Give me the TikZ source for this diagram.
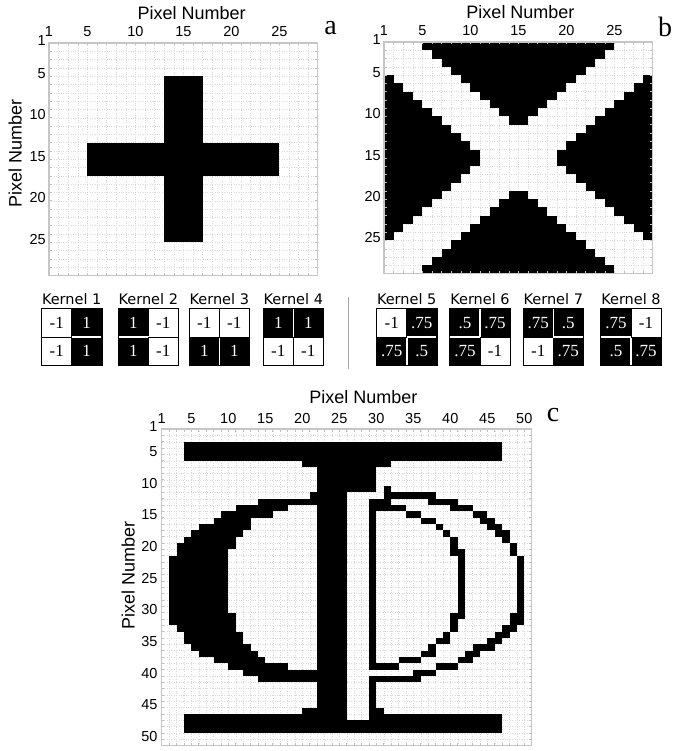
\documentclass[tikz,border=0pt]{standalone}
\usepackage{fontspec}
\setmainfont{Liberation Serif}
\setsansfont{Liberation Sans}
\newfontfamily\kfont{DejaVu Sans}
\def\kneg{-1}
\tikzset{
  griddot/.style={gray!30, line width=0.25pt, dash pattern=on 0.6pt off 1.8pt},
  gtick/.style={gray!50, line width=0.45pt},
  gframe/.style={gray!45, line width=1.1pt},
  ticklab/.style={font=\sffamily\fontsize{14.5}{16}\selectfont, inner sep=0pt},
  axtitle/.style={font=\sffamily\fontsize{18}{20}\selectfont, inner sep=0pt},
  panlab/.style={font=\rmfamily\fontsize{28}{30}\selectfont, inner sep=0pt},
  klab/.style={font=\kfont\fontsize{14.5}{16}\selectfont, inner sep=0pt},
  kcell/.style={minimum width=30pt, minimum height=28.3pt, inner sep=0pt, font=\rmfamily\fontsize{17}{18}\selectfont},
  kline/.style={line width=1pt},
  sepline/.style={gray!70, line width=1pt},
}
\newcommand{\pixlines}[1]{%
  \pgfmathtruncatemacro{\nm}{#1-1}%
  \foreach \i in {1,...,\nm} {
    \draw[griddot] (\i,0) -- (\i,#1);
    \draw[griddot] (0,\i) -- (#1,\i);
  }
}
\newcommand{\pixframe}[1]{%
  \pgfmathtruncatemacro{\nm}{#1-1}%
  \foreach \i in {1,...,\nm} {
    \draw[gtick] (\i,0) -- ++(0pt,-2.5pt);
    \draw[gtick] (\i,#1) -- ++(0pt,2.5pt);
    \draw[gtick] (0,\i) -- ++(2.5pt,0pt);
    \draw[gtick] (#1,\i) -- ++(-2.5pt,0pt);
  }
  \draw[gframe] (0,0) rectangle (#1,#1);
}
\newcommand{\kerncell}[4]{%
  \def\kval{#4}%
  \ifx\kval\kneg
    \node[kcell,fill=white,text=black] (#1) at (#2,#3) {#4};
  \else
    \node[kcell,fill=black,text=white] (#1) at (#2,#3) {#4};
  \fi}
\newcommand{\kerndiv}[4]{%
  \def\kva{#1}\def\kvb{#2}%
  \ifx\kva\kneg \draw[kline] #3 -- #4;%
  \else\ifx\kvb\kneg \draw[kline] #3 -- #4;%
  \else \draw[kline,white,line width=1.5pt] #3 -- #4;\fi\fi}
\newcommand{\kernbox}[7]{%
  \kerncell{#1tl}{#2+15}{322.65}{#4}
  \kerncell{#1tr}{#2+45}{322.65}{#5}
  \kerncell{#1bl}{#2+15}{350.95}{#6}
  \kerncell{#1br}{#2+45}{350.95}{#7}
  \kerndiv{#4}{#5}{(#1tl.north east)}{(#1tl.south east)}
  \kerndiv{#6}{#7}{(#1bl.north east)}{(#1bl.south east)}
  \kerndiv{#4}{#6}{(#1tl.south west)}{(#1tl.south east)}
  \kerndiv{#5}{#7}{(#1tr.south west)}{(#1tr.south east)}
  \draw[line width=1.2pt] (#1tl.north west) rectangle (#1br.south east);
  \node[klab, anchor=base] (#1lab) at (#2+30,304) {#3};
}
\begin{document}
\begin{tikzpicture}[x=1pt,y=-1pt]
\useasboundingbox (0,0) rectangle (674,751);
\fill[white] (0,0) rectangle (674,751);

% ---------- panel a ----------
\begin{scope}[shift={(49,43)}, x=9.6pt, y=-8.3pt]
  \pixlines{28}
  \fill (12,4) rectangle (16,24);
  \fill (4,12) rectangle (24,16);
  \pixframe{28}
  \foreach \n in {1,5,10,15,20,25} {
    \pgfmathtruncatemacro{\p}{\n-1}
    \node[ticklab, anchor=base] (a-t\n) at ([yshift=6pt]\p,0) {\n};
    \node[ticklab, anchor=mid east] (a-l\n) at ([xshift=-3pt]0,\p) {\n};
  }
\end{scope}
\node[axtitle, anchor=base] (a-title) at (191.7,19.5) {Pixel Number};
\node[axtitle, anchor=base, rotate=90] (a-ytitle) at (21.5,153.3) {Pixel Number};
\node[panlab, anchor=base] (lab-a) at (330.5,35) {a};

% ---------- panel b ----------
\begin{scope}[shift={(384,42)}, x=9.6pt, y=-8.27pt]
  \pixlines{28}
  \foreach \r in {0,...,9} {
    \fill (4+\r,\r) rectangle (24-\r,\r+1);
    \fill (4+\r,27-\r) rectangle (24-\r,28-\r);
    \fill (\r,4+\r) rectangle (\r+1,24-\r);
    \fill (27-\r,4+\r) rectangle (28-\r,24-\r);
  }
  \pixframe{28}
  \foreach \n in {1,5,10,15,20,25} {
    \pgfmathtruncatemacro{\p}{\n-1}
    \node[ticklab, anchor=base] (b-t\n) at ([yshift=6pt]\p,0) {\n};
    \node[ticklab, anchor=mid east] (b-l\n) at ([xshift=-3pt]0,\p) {\n};
  }
\end{scope}
\node[axtitle, anchor=base] (b-title) at (520.5,19) {Pixel Number};
\node[panlab, anchor=base] (lab-b) at (665,37) {b};

% ---------- kernels ----------
\kernbox{ka}{41.7}{Kernel 1}{-1}{1}{-1}{1}
\kernbox{kb}{118.3}{Kernel 2}{1}{-1}{1}{-1}
\kernbox{kc}{189.3}{Kernel 3}{-1}{-1}{1}{1}
\kernbox{kd}{263.3}{Kernel 4}{1}{1}{-1}{-1}
\kernbox{ke}{376.7}{Kernel 5}{-1}{.75}{.75}{.5}
\kernbox{kf}{450}{Kernel 6}{.5}{.75}{.75}{-1}
\kernbox{kg}{523.3}{Kernel 7}{.75}{.5}{-1}{.75}
\kernbox{kh}{601}{Kernel 8}{.75}{-1}{.5}{.75}
\coordinate (sepTop) at (348.5,297);
\coordinate (sepBot) at (348.5,369);
\draw[sepline] (sepTop) -- (sepBot);

% ---------- panel c ----------
\begin{scope}[shift={(161.7,429)}, x=7.4pt, y=-6.33pt]
  \pixlines{50}
  \foreach \a/\b/\c/\d in {
    3/2/46/5, 19/5/31/6, 21/6/29/9, 21/9/29/10, 30/9/31/10,
    21/10/25/44, 20/10/21/11, 30/10/37/11,
    13/11/21/12, 28/11/31/12, 36/11/40/12,
    10/12/17/13, 28/12/33/13, 39/12/42/13,
    8/13/15/14, 28/13/29/37, 33/13/35/14, 42/13/44/14,
    7/14/12/15, 35/14/37/15, 43/14/45/15,
    5/15/12/16, 37/15/38/16, 44/15/46/16,
    4/16/11/17, 38/16/39/17, 45/16/47/17,
    3/17/10/18, 39/17/40/18, 46/17/47/18,
    2/18/10/19, 39/18/40/19, 47/18/48/19,
    2/19/9/20, 39/19/41/20, 47/19/48/20,
    1/20/9/29, 40/20/41/29, 48/20/49/31,
    1/29/10/31, 39/29/41/30, 47/29/48/31,
    39/30/40/32, 2/31/10/32, 46/31/48/32,
    3/32/11/34, 38/32/39/33, 45/32/47/33,
    37/33/39/34, 44/33/46/34,
    4/34/12/35, 36/34/37/35, 42/34/45/35,
    5/35/13/36, 35/35/37/36, 41/35/43/36,
    7/36/14/37, 32/36/35/37, 40/36/42/37,
    9/37/17/38, 28/37/32/38, 37/37/40/38,
    11/38/21/39, 34/38/37/39,
    13/39/21/40, 28/39/35/40,
    28/40/29/44, 19/44/25/45, 28/44/30/45,
    3/45/25/48, 28/45/46/48, 25/46/28/48} {
    \fill (\a,\b) rectangle (\c,\d);
  }
  \pixframe{50}
  \foreach \n in {1,5,10,15,20,25,30,35,40,45,50} {
    \pgfmathtruncatemacro{\p}{\n-1}
    \node[ticklab, anchor=base] (c-t\n) at ([yshift=6pt]\p,0) {\n};
    \node[ticklab, anchor=mid east] (c-l\n) at ([xshift=-4pt]0,\p) {\n};
  }
\end{scope}
\node[axtitle, anchor=base] (c-title) at (363.3,403.5) {Pixel Number};
\node[axtitle, anchor=base, rotate=90] (c-ytitle) at (134.5,575) {Pixel Number};
\node[panlab, anchor=base] (lab-c) at (553,421) {c};
\end{tikzpicture}
\end{document}
